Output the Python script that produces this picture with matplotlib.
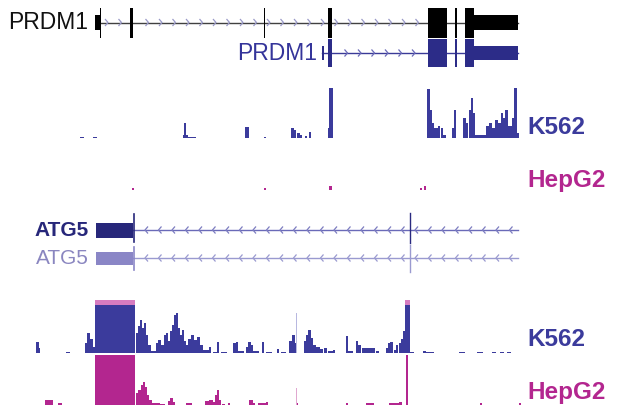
import numpy as np
import matplotlib.pyplot as plt
from matplotlib.patches import Rectangle
from matplotlib.collections import LineCollection

plt.rcParams['font.family'] = ['Liberation Sans', 'DejaVu Sans']

# track colours
NAVY = '#3b3b9c'
MAGENTA = '#b3268f'
CAP = '#d77cc0'

# gene models: (start, end, kind) kind: 'cds' full height, 'utr' half height
prdm1_a = [(95, 100, 'utr'), (99.5, 101, 'cds'), (130, 133, 'cds'), (263.5, 265, 'cds'),
           (327.5, 331.5, 'cds'), (428, 447, 'cds'), (454.5, 456.5, 'cds'),
           (465, 474, 'cds'), (474, 518, 'utr')]
prdm1_b = [(321.5, 323.5, 'utr'), (327.5, 332, 'cds'), (428, 447, 'cds'),
           (454.5, 456.5, 'cds'), (465, 474, 'cds'), (474, 518, 'utr')]
atg5_exons = [(96, 133, 'cds'), (409.5, 410.5, 'cds')]

# coverage tracks: bar start, bar width, bar height
k562_top_x = [80, 93, 183, 184, 186, 245, 264, 291, 294, 297, 300, 305, 309, 328, 329,
              427, 430, 432, 434, 438, 441, 443, 452, 454, 463, 466, 469, 471, 473, 475,
              486, 489, 492, 495, 498, 501, 503, 505, 508, 512, 514, 517]
k562_top_w = [4, 4, 5, 2, 10, 4, 2, 3, 2, 3, 2, 2, 2, 2, 4,
              3, 2, 2, 4, 2, 2, 3, 2, 2, 3, 2, 2, 2, 2, 11,
              3, 3, 3, 3, 3, 2, 2, 3, 4, 2, 3, 2]
k562_top_h = [1, 1, 3, 15, 1, 11, 1, 10, 8, 5, 3, 2, 6, 10, 50,
              49, 28, 15, 10, 12, 10, 3, 10, 28, 20, 15, 28, 40, 25, 3,
              12, 15, 10, 18, 15, 25, 20, 28, 12, 20, 50, 5]

hepg2_top_x = [132, 264, 329, 420, 424]
hepg2_top_w = [2, 2, 3, 2, 2]
hepg2_top_h = [2, 2, 4, 2, 4]

k562_bot_x = [36, 38, 66, 85, 87, 90, 93, 95, 136, 138, 140, 142, 144, 146, 148, 151,
              156, 158, 161, 164, 166, 168, 170, 172, 174, 176, 178, 180, 182, 184, 186,
              188, 191, 194, 197, 200, 203, 209, 213, 217, 221, 233, 236, 238, 246, 248,
              251, 253, 262, 266, 277, 281, 289, 292, 295, 304, 306, 308, 311, 313, 316,
              320, 324, 328, 333, 346, 348, 356, 358, 362, 365, 376, 386, 388, 390, 394,
              396, 399, 401, 403, 405, 410, 423, 426, 459, 477, 492, 500, 507]
k562_bot_w = [3, 2, 4, 2, 3, 3, 2, 40, 2, 2, 2, 2, 2, 2, 3, 5,
              2, 3, 3, 2, 2, 2, 2, 2, 2, 2, 2, 2, 2, 2, 2,
              3, 3, 3, 3, 3, 6, 2, 4, 2, 6, 3, 2, 6, 2, 3,
              2, 6, 2, 6, 2, 5, 3, 3, 2, 2, 2, 3, 2, 3, 4,
              3, 3, 5, 2, 2, 5, 2, 3, 3, 10, 3, 2, 2, 3, 2,
              2, 2, 2, 2, 5, 4, 3, 8, 6, 6, 4, 4, 4]
k562_bot_h = [11, 5, 1, 10, 20, 14, 6, 53, 20, 27, 33, 25, 30, 18, 8, 2,
              10, 13, 8, 18, 20, 12, 22, 28, 38, 40, 25, 18, 23, 12, 8,
              14, 18, 13, 16, 8, 3, 6, 1, 11, 1, 10, 11, 2, 6, 11,
              8, 2, 11, 1, 4, 1, 12, 18, 10, 12, 18, 23, 15, 8, 6,
              4, 5, 2, 3, 17, 2, 12, 8, 5, 5, 2, 5, 10, 11, 3,
              8, 10, 14, 22, 53, 1, 2, 1, 1, 1, 1, 1, 1]

hepg2_bot_x = [45, 58, 95, 136, 138, 141, 143, 145, 147, 149, 152, 160, 168, 170, 173,
               186, 205, 209, 213, 215, 217, 219, 222, 228, 249, 253, 258, 266, 296,
               346, 366, 389, 395, 399, 406, 480, 519]
hepg2_bot_w = [8, 4, 40, 2, 3, 2, 2, 2, 2, 3, 8, 5, 2, 3, 2,
               6, 4, 4, 2, 2, 2, 2, 3, 2, 4, 2, 8, 2, 2,
               2, 8, 6, 4, 3, 2, 2, 2]
hepg2_bot_h = [5, 2, 50, 12, 15, 20, 23, 18, 10, 5, 2, 1, 4, 7, 3,
               2, 4, 5, 3, 10, 15, 5, 1, 2, 5, 2, 2, 3, 2,
               2, 2, 2, 2, 3, 50, 2, 2]

# faint single-base spikes
spike_x = [296]
spike_k562_h = [40]
spike_hepg2_h = [17]

fig = plt.figure(figsize=(6.21, 4.08), dpi=100)
ax = fig.add_axes([0, 0, 1, 1])
ax.set_xlim(0, 621)
ax.set_ylim(408, 0)
ax.axis('off')


def gene(exons, y, color, line_color, arrow_color, x0, x1, strand, full=30, half=15):
    ax.plot([x0, x1], [y, y], color=line_color, lw=1, zorder=2)
    segs = []
    for xa in np.arange(x0 + 12, x1 - 4, 13.5):
        if any(s - 3 < xa < e + 3 for s, e, _ in exons):
            continue
        d = 3 * strand
        segs.append([(xa - d, y - 3.5), (xa, y), (xa - d, y + 3.5)])
    ax.add_collection(LineCollection(segs, colors=arrow_color, lw=0.9, zorder=2))
    for s, e, kind in exons:
        hh = full if kind == 'cds' else half
        ax.add_patch(Rectangle((s, y - hh / 2), e - s, hh, color=color, lw=0, zorder=3))


def track(xs, ws, hs, base, color):
    ax.bar(xs, [-h for h in hs], width=ws, bottom=base, align='edge',
           color=color, lw=0, zorder=2)


gene(prdm1_a, 22.5, 'black', '#404040', '#9a9ac8', 96, 518, 1)
ax.text(88, 22.5, 'PRDM1', ha='right', va='center', fontsize=16.5, color='#111111')

gene(prdm1_b, 53, '#2c2c88', '#3a3a98', '#6a6ab8', 322, 518, 1, full=28, half=14)
ax.text(317, 53, 'PRDM1', ha='right', va='center', fontsize=16.5, color='#34349a')

gene(atg5_exons, 230, '#27277a', '#6a6ab8', '#7c7cc0', 133, 518, -1, full=15)
ax.plot([134, 134], [214, 242], color='#27277a', lw=1.2, zorder=4)
ax.plot([410, 410], [213, 243], color='#2a2a80', lw=1, zorder=4)
ax.text(89, 230, 'ATG5', ha='right', va='center', fontsize=15, fontweight='bold',
        color='#27277a')

gene(atg5_exons, 258, '#8a86c6', '#9a9ad0', '#9a9ad0', 133, 518, -1, full=13)
ax.plot([134, 134], [247, 270], color='#8a86c6', lw=1.2, zorder=4)
ax.plot([410, 410], [245, 272], color='#9a9ad0', lw=1, zorder=4)
ax.text(89, 258, 'ATG5', ha='right', va='center', fontsize=15, color='#8a86c0')

track(k562_top_x, k562_top_w, k562_top_h, 138, NAVY)
track(hepg2_top_x, hepg2_top_w, hepg2_top_h, 190, MAGENTA)
track(k562_bot_x, k562_bot_w, k562_bot_h, 353, NAVY)
track(hepg2_bot_x, hepg2_bot_w, hepg2_bot_h, 405, MAGENTA)
ax.bar(spike_x, [-h for h in spike_k562_h], width=1, bottom=353, align='edge',
       color='#b8b8e0', lw=0, zorder=2)
ax.bar(spike_x, [-h for h in spike_hepg2_h], width=1, bottom=405, align='edge',
       color='#e0a8d0', lw=0, zorder=2)

# clipped-signal caps on the tallest K562 bars
for xs, w, h in zip(k562_bot_x, k562_bot_w, k562_bot_h):
    if h >= 50:
        ax.add_patch(Rectangle((xs, 353 - h), w, 5, color=CAP, lw=0, zorder=3))

lab = dict(ha='left', va='center', fontsize=17.5, fontweight='bold')
ax.text(527, 128, 'K562', color=NAVY, **lab)
ax.text(527, 181, 'HepG2', color=MAGENTA, **lab)
ax.text(527, 340, 'K562', color=NAVY, **lab)
ax.text(527, 393, 'HepG2', color=MAGENTA, **lab)

fig.savefig('out.png', dpi=100)
